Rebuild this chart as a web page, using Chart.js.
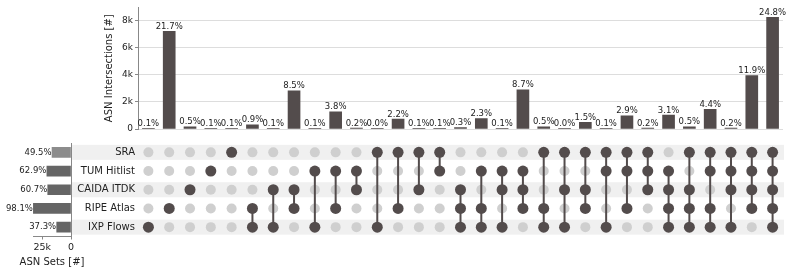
<!DOCTYPE html>
<html>
<head>
<meta charset="utf-8">
<script src="https://cdn.jsdelivr.net/npm/chart.js@4"></script>
<style>
    html, body { margin: 0; padding: 0; background: #fff; }
    #wrap { position: relative; width: 793px; height: 273px; }
    canvas { position: absolute; left: 0; top: 0; }
</style>
</head>
<body>
<div id="wrap">
    <canvas id="sets" width="793" height="273"></canvas>
    <canvas id="matrix" width="793" height="273"></canvas>
    <canvas id="bars" width="793" height="273"></canvas>
</div>
<script>
const setNames = ['SRA', 'TUM Hitlist', 'CAIDA ITDK', 'RIPE Atlas', 'IXP Flows'];
const setSizes = [16480, 20950, 20210, 32670, 12420];
const setPctLabels = ['49.5%', '62.9%', '60.7%', '98.1%', '37.3%'];
const setColors = ['#8c8c8c', '#656565', '#656565', '#656565', '#656565'];

// which sets (index into setNames) belong to each intersection column
const members = [
    [4], [3], [2], [1], [0],
    [3, 4], [2, 4], [2, 3], [1, 4], [1, 3], [1, 2], [0, 4], [0, 3], [0, 2], [0, 1],
    [2, 3, 4], [1, 3, 4], [1, 2, 4], [1, 2, 3], [0, 3, 4], [0, 2, 4], [0, 2, 3], [0, 1, 4], [0, 1, 3], [0, 1, 2],
    [1, 2, 3, 4], [0, 2, 3, 4], [0, 1, 3, 4], [0, 1, 2, 4], [0, 1, 2, 3],
    [0, 1, 2, 3, 4]
];
const interCounts = [
    33, 7230, 167, 33, 33, 300, 33, 2830, 33, 1265, 67, 10, 733, 33, 33,
    100, 766, 33, 2900, 167, 10, 500, 33, 966, 67, 1032,
    167, 1465, 67, 3960, 8260
];
const interPctLabels = [
    '0.1%', '21.7%', '0.5%', '0.1%', '0.1%', '0.9%', '0.1%', '8.5%', '0.1%', '3.8%', '0.2%', '0.0%', '2.2%', '0.1%', '0.1%',
    '0.3%', '2.3%', '0.1%', '8.7%', '0.5%', '0.0%', '1.5%', '0.1%', '2.9%', '0.2%', '3.1%',
    '0.5%', '4.4%', '0.2%', '11.9%', '24.8%'
];
const interTicks = [0, 2000, 4000, 6000, 8000];
const setTicks = [0, 25000];

const FONT = 'DejaVu Sans';
const DARK = '#534c4c';
const LIGHT = '#cfcfcf';
const colLabels = members.map(m => m.map(i => setNames[i]).join(' & '));

const kFmt = v => v === 0 ? '0' : (v / 1000) + 'k';

// percentage labels above the intersection bars
const barLabels = {
    id: 'barLabels',
    afterDatasetsDraw(chart) {
        const ctx = chart.ctx;
        ctx.save();
        ctx.font = '8.5px ' + FONT;
        ctx.fillStyle = '#222';
        ctx.textAlign = 'center';
        ctx.textBaseline = 'bottom';
        chart.getDatasetMeta(0).data.forEach((bar, i) => {
            ctx.fillText(interPctLabels[i], bar.x, bar.y - 0.5);
        });
        ctx.restore();
    }
};

new Chart(document.getElementById('bars'), {
    type: 'bar',
    data: {
        labels: colLabels,
        datasets: [{ data: interCounts, backgroundColor: DARK, barThickness: 12 }]
    },
    options: {
        responsive: false,
        animation: false,
        layout: { padding: { left: 103, right: 10, top: 3, bottom: 144 } },
        plugins: { legend: { display: false }, tooltip: { enabled: false } },
        scales: {
            x: { display: false, offset: true },
            y: {
                min: 0,
                max: 9000,
                afterFit: s => { s.width = 35; },
                afterBuildTicks: s => { s.ticks = interTicks.map(v => ({ value: v })); },
                ticks: { callback: kFmt, color: '#222', font: { family: FONT, size: 9 }, padding: 2 },
                grid: { color: '#dddddd', tickLength: 3, tickColor: '#888' },
                border: { color: '#888' },
                title: {
                    display: true, text: 'ASN Intersections [#]', color: '#222',
                    font: { family: FONT, size: 10 }, padding: { top: 0, bottom: 0 }
                }
            }
        }
    },
    plugins: [barLabels]
});

// matrix of dots
const inactivePts = [];
const activePts = [];
members.forEach((m, c) => {
    setNames.forEach((name, r) => {
        const p = { x: colLabels[c], y: name };
        if (m.includes(r)) activePts.push(p); else inactivePts.push(p);
    });
});
const lineSets = members.filter(m => m.length > 1).map(m => {
    const c = colLabels[members.indexOf(m)];
    return {
        data: [{ x: c, y: setNames[Math.min(...m)] }, { x: c, y: setNames[Math.max(...m)] }],
        showLine: true, borderColor: DARK, borderWidth: 2, pointRadius: 0
    };
});

const stripes = {
    id: 'stripes',
    beforeDraw(chart) {
        const ctx = chart.ctx;
        const ys = chart.scales.y;
        ctx.save();
        ctx.fillStyle = '#f0f0f0';
        setNames.forEach((n, i) => {
            if (i % 2) return;
            const y = ys.getPixelForValue(i);
            ctx.fillRect(72, y - 7.5, chart.chartArea.right + 1 - 72, 15);
        });
        ctx.restore();
    }
};

new Chart(document.getElementById('matrix'), {
    type: 'scatter',
    data: {
        labels: colLabels,
        datasets: [
            { data: activePts, backgroundColor: DARK, borderWidth: 0, pointRadius: 5.5 },
            ...lineSets,
            { data: inactivePts, backgroundColor: LIGHT, borderWidth: 0, pointRadius: 5 }
        ]
    },
    options: {
        responsive: false,
        animation: false,
        layout: { padding: { left: 0, right: 10, top: 143, bottom: 36.5 } },
        plugins: { legend: { display: false }, tooltip: { enabled: false } },
        scales: {
            x: { type: 'category', labels: colLabels, offset: true, display: false },
            y: {
                type: 'category',
                labels: setNames,
                offset: true,
                afterFit: s => { s.width = 138; },
                ticks: { color: '#222', font: { family: FONT, size: 10 }, padding: 3 },
                grid: { display: false, drawTicks: false },
                border: { display: false }
            }
        }
    },
    plugins: [stripes]
});

// set sizes on the left
const setLabels = {
    id: 'setLabels',
    afterDatasetsDraw(chart) {
        const ctx = chart.ctx;
        ctx.save();
        ctx.font = '8.5px ' + FONT;
        ctx.fillStyle = '#222';
        ctx.textAlign = 'right';
        ctx.textBaseline = 'middle';
        chart.getDatasetMeta(0).data.forEach((bar, i) => {
            ctx.fillText(setPctLabels[i], bar.x - 0.5, bar.y);
        });
        // axis title, drawn here so it is not squeezed into the narrow axis
        const a = chart.chartArea;
        ctx.font = '10px ' + FONT;
        ctx.textAlign = 'center';
        ctx.fillText('ASN Sets [#]', (a.left + a.right) / 2, 262);
        ctx.restore();
    }
};

new Chart(document.getElementById('sets'), {
    type: 'bar',
    data: {
        labels: setNames,
        datasets: [{ data: setSizes, backgroundColor: setColors, barThickness: 10 }]
    },
    options: {
        indexAxis: 'y',
        responsive: false,
        animation: false,
        layout: { padding: { left: 33, right: 722, top: 143, bottom: 0 } },
        plugins: { legend: { display: false }, tooltip: { enabled: false } },
        scales: {
            y: {
                position: 'right',
                offset: true,
                afterFit: s => { s.width = 0; },
                ticks: { display: false },
                grid: { display: false, drawTicks: false },
                border: { color: '#888' }
            },
            x: {
                reverse: true,
                min: 0,
                max: 33000,
                afterFit: s => { s.height = 36.5; },
                afterBuildTicks: s => { s.ticks = setTicks.map(v => ({ value: v })); },
                ticks: { callback: kFmt, color: '#222', font: { family: FONT, size: 9.5 }, padding: 2, maxRotation: 0 },
                grid: { drawOnChartArea: false, tickLength: 3, tickColor: '#888' },
                border: { color: '#888' }
            }
        }
    },
    plugins: [setLabels]
});
</script>
</body>
</html>
